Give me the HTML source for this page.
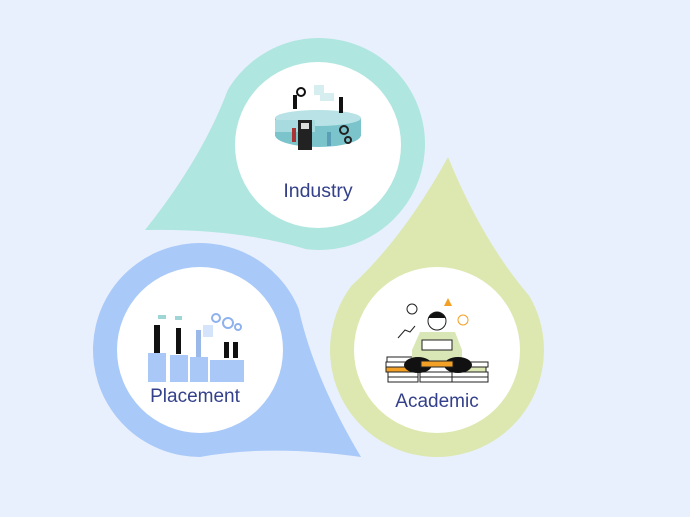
<!DOCTYPE html>
<html><head><meta charset="utf-8"><style>
html,body{margin:0;padding:0;background:#e9f0fd;}
svg{display:block}
text{font-family:"Liberation Sans",sans-serif;fill:#34418a;}
</style></head><body>
<svg id="s" width="690" height="517" viewBox="0 0 690 517">
<rect width="690" height="517" fill="#e9f0fd"/>
<g id="drops"></g>
<circle cx="318" cy="145" r="83" fill="#fff"/>
<circle cx="437" cy="350" r="83" fill="#fff"/>
<circle cx="200" cy="350" r="83" fill="#fff"/>
<!-- Industry illustration -->
<ellipse cx="318" cy="135" rx="43" ry="12" fill="#7cc4cc"/>
<rect x="275" y="118" width="86" height="18" fill="#7cc4cc"/>
<ellipse cx="318" cy="118" rx="43" ry="8" fill="#b8e2e6"/>
<rect x="275" y="120" width="40" height="12" fill="#a7dbe0"/>
<rect x="298" y="120" width="14" height="30" fill="#222"/>
<rect x="301" y="123" width="8" height="6" fill="#ddd"/>
<circle cx="301" cy="92" r="4" fill="none" stroke="#111" stroke-width="2"/>
<rect x="293" y="95" width="4" height="14" fill="#111"/>
<rect x="339" y="97" width="4" height="16" fill="#111"/>
<rect x="314" y="85" width="10" height="10" fill="#d6eef0"/>
<rect x="320" y="93" width="14" height="8" fill="#d6eef0"/>
<rect x="292" y="128" width="4" height="14" fill="#a33"/>
<rect x="327" y="132" width="4" height="14" fill="#5a9fb5"/>
<circle cx="344" cy="130" r="4" fill="none" stroke="#222" stroke-width="2"/>
<circle cx="348" cy="140" r="3" fill="none" stroke="#222" stroke-width="2"/>
<text x="318" y="197" font-size="19.5" text-anchor="middle">Industry</text>
<!-- Placement illustration -->
<g fill="#a9c8f8">
<rect x="148" y="353" width="18" height="29"/>
<rect x="170" y="355" width="18" height="27"/>
<rect x="190" y="357" width="18" height="25"/>
<rect x="210" y="360" width="34" height="22"/>
</g>
<g fill="#111">
<rect x="154" y="325" width="6" height="28"/>
<rect x="176" y="328" width="5" height="26"/>
<rect x="224" y="342" width="5" height="16"/>
<rect x="233" y="342" width="5" height="16"/>
</g>
<rect x="196" y="330" width="5" height="27" fill="#9ab8e8"/>
<rect x="203" y="325" width="10" height="12" fill="#d6e4fb"/>
<circle cx="216" cy="318" r="4" fill="none" stroke="#8fb2ee" stroke-width="2"/>
<circle cx="228" cy="323" r="5" fill="none" stroke="#8fb2ee" stroke-width="2"/>
<circle cx="238" cy="327" r="3" fill="none" stroke="#8fb2ee" stroke-width="2"/>
<rect x="158" y="315" width="8" height="4" fill="#9ed6d6"/>
<rect x="175" y="316" width="7" height="4" fill="#9ed6d6"/>
<text x="195" y="402" font-size="19" text-anchor="middle">Placement</text>
<!-- Academic illustration -->
<g stroke="#222" stroke-width="1" fill="#fff">
<rect x="387" y="357" width="30" height="5"/>
<rect x="386" y="362" width="34" height="5"/>
<rect x="386" y="367" width="34" height="5" fill="#f3a126"/>
<rect x="388" y="372" width="30" height="5"/>
<rect x="388" y="377" width="30" height="5"/>
<rect x="452" y="362" width="36" height="5"/>
<rect x="450" y="367" width="36" height="5" fill="#dbe8b3"/>
<rect x="452" y="372" width="36" height="5"/>
<rect x="452" y="377" width="36" height="5"/>
<rect x="420" y="372" width="32" height="5"/>
<rect x="420" y="377" width="32" height="5"/>
</g>
<path d="M420 332 L455 332 L462 350 L462 365 L412 365 L412 350 Z" fill="#d9e7b6"/>
<ellipse cx="418" cy="365" rx="14" ry="8" fill="#111"/>
<ellipse cx="458" cy="365" rx="14" ry="8" fill="#111"/>
<rect x="421" y="361" width="32" height="6" fill="#f3a126" stroke="#222"/>
<rect x="422" y="340" width="30" height="10" fill="#fff" stroke="#222"/>
<circle cx="437" cy="321" r="9" fill="#fff" stroke="#222"/>
<path d="M428 318 Q437 306 446 318 Z" fill="#111"/>
<circle cx="412" cy="309" r="5" fill="none" stroke="#222"/>
<circle cx="463" cy="320" r="5" fill="none" stroke="#f3a126"/>
<path d="M448 298 L452 306 L444 306 Z" fill="#f3a126"/>
<polyline points="398,338 405,330 410,332 415,326" fill="none" stroke="#222"/>
<text x="437" y="407" font-size="19" text-anchor="middle">Academic</text>
</svg>
<script>
function drop(cx,cy,r,px,py,col){
 var dx=px-cx,dy=py-cy,d=Math.hypot(dx,dy),a=Math.atan2(dy,dx),o=Math.acos(r/d);
 var a1=a+o,a2=a-o;
 var t1=[cx+r*Math.cos(a1),cy+r*Math.sin(a1)],t2=[cx+r*Math.cos(a2),cy+r*Math.sin(a2)];
 function ctrl(t){var mx=(t[0]+px)/2,my=(t[1]+py)/2;return [mx+(cx-mx)*0.12,my+(cy-my)*0.12];}
 var c1=ctrl(t1),c2=ctrl(t2);
 var p="M"+px+" "+py+" Q"+c1[0]+" "+c1[1]+" "+t1[0]+" "+t1[1]+
  " A"+r+" "+r+" 0 1 1 "+t2[0]+" "+t2[1]+
  " Q"+c2[0]+" "+c2[1]+" "+px+" "+py+"Z";
 var e=document.createElementNS("http://www.w3.org/2000/svg","path");
 e.setAttribute("d",p);e.setAttribute("fill",col);
 document.getElementById("drops").appendChild(e);
}
drop(319,144,106,145,230,"#afe6df");
drop(437,350,107,448,157,"#dde8b1");
drop(200,350,107,361,457,"#a9c9f9");
</script>
</body></html>
